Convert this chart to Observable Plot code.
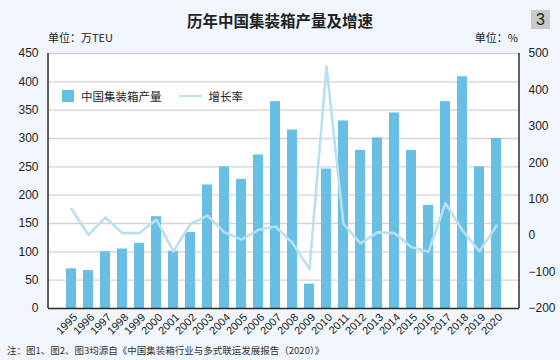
<!DOCTYPE html>
<html>
<head>
<meta charset="utf-8">
<script src="https://cdn.jsdelivr.net/npm/d3@7"></script>
<script src="https://cdn.jsdelivr.net/npm/@observablehq/plot@0.6"></script>
<style>
  body { margin: 0; }
  #wrap { position: relative; width: 560px; height: 360px; background: #f0f6fb; overflow: hidden;
          font-family: "Liberation Sans", "Noto Sans CJK SC", sans-serif; color: #222; }
  #title { position: absolute; top: 9px; left: 0; width: 560px; text-align: center;
           font: bold 15.5px "Noto Sans CJK SC", sans-serif; color: #222; }
  #badge { position: absolute; left: 531px; top: 10px; width: 19px; height: 19px; background: #c9c9c9;
           font: 16px "Liberation Sans", sans-serif; text-align: center; line-height: 19px; color: #222; }
  .unit { position: absolute; top: 29px; font: 11px "Noto Sans CJK SC", sans-serif; color: #222; }
  #chart { position: absolute; top: 40px; left: 0; }
  #legend { position: absolute; top: 88px; left: 62px; font: 11.5px "Noto Sans CJK SC", sans-serif; color: #222;
            display: flex; align-items: center; }
  #legend .sw { display: inline-block; width: 12px; height: 12px; margin-right: 7px; }
  #legend .ln { display: inline-block; width: 23px; height: 2.5px; margin-left: 17px; margin-right: 7px; }
  #footer { position: absolute; left: 7px; top: 343px; font: 9.5px "Noto Sans CJK SC", serif; color: #333; }
</style>
</head>
<body>
<div id="wrap">
  <div id="title">历年中国集装箱产量及增速</div>
  <div id="badge">3</div>
  <div class="unit" style="left:48px">单位：万TEU</div>
  <div class="unit" style="right:42px">单位：%</div>
  <div id="chart"></div>
  <div id="legend"></div>
  <div id="footer">注：图1、图2、图3均源自《中国集装箱行业与多式联运发展报告（2020）》</div>
</div>
<script>
const years = ["1995","1996","1997","1998","1999","2000","2001","2002","2003","2004","2005","2006","2007",
               "2008","2009","2010","2011","2012","2013","2014","2015","2016","2017","2018","2019","2020"];
const output = [70, 67, 100, 105, 115, 162, 101, 134, 218, 250, 228, 271, 365,
                315, 43, 246, 331, 279, 301, 345, 279, 182, 365, 409, 250, 300];
const growth = [73, 2, 50, 7, 7, 44, -43, 32, 55, 9, -11, 16, 25,
                -20, -92, 464, 32, -21, 9, 7, -32, -44, 89, 14, -43, 27];
const leftTicks = [0, 50, 100, 150, 200, 250, 300, 350, 400, 450];
const rightTicks = [-200, -100, 0, 100, 200, 300, 400, 500];
const seriesNames = ["中国集装箱产量", "增长率"];
const barColor = "#68bfe4";
const lineColor = "#b9dff1";

// right axis domain [-200, 500] mapped onto left domain [0, 450]
const toLeft = v => (v + 200) * 450 / 700;
const fromLeft = v => Math.round(v * 700 / 450 - 200);
const fmt = v => (v < 0 ? "\u2212" + Math.abs(v) : String(v));

const edges = (index, scales, values, dims) => {
  const g = d3.create("svg:g").attr("stroke", "#2b2b2b").attr("stroke-width", 1.5);
  const y1 = dims.marginTop, y2 = dims.height - dims.marginBottom;
  g.append("line").attr("x1", dims.marginLeft).attr("x2", dims.marginLeft).attr("y1", y1).attr("y2", y2);
  g.append("line").attr("x1", dims.width - dims.marginRight).attr("x2", dims.width - dims.marginRight).attr("y1", y1).attr("y2", y2);
  return g.node();
};

const chart = Plot.plot({
  width: 560,
  height: 305,
  marginLeft: 48,
  marginRight: 41,
  marginTop: 13,
  marginBottom: 37,
  style: { background: "transparent", fontFamily: "Liberation Sans, Noto Sans CJK SC, sans-serif", color: "#222" },
  x: { type: "band", domain: years, paddingInner: 0.43, paddingOuter: 0.34, label: null },
  y: { domain: [0, 450], label: null },
  marks: [
    Plot.frame({ fill: "white", stroke: null }),
    Plot.gridY(leftTicks.filter(d => d > 0), { stroke: "#d4d4d4", strokeOpacity: 1, strokeWidth: 1.3 }),
    Plot.barY(years, { x: years, y: output, fill: barColor }),
    Plot.lineY(years, { x: years, y: growth.map(toLeft), stroke: lineColor, strokeWidth: 2.6 }),
    Plot.ruleY([0], { stroke: "#2b2b2b", strokeWidth: 1.6 }),
    edges,
    Plot.axisY(leftTicks, { anchor: "left", tickSize: 0, tickPadding: 10, fontSize: 12, label: null }),
    Plot.axisY(rightTicks.map(toLeft), { anchor: "right", tickSize: 0, tickPadding: 9, fontSize: 12, label: null,
      tickFormat: d => fmt(fromLeft(d)) }),
    Plot.axisX({ tickRotate: -45, tickSize: 0, tickPadding: 7, dx: 4, fontSize: 11, label: null })
  ]
});
document.getElementById("chart").appendChild(chart);

const legend = document.getElementById("legend");
legend.innerHTML =
  `<span class="sw" style="background:${barColor}"></span><span>${seriesNames[0]}</span>` +
  `<span class="ln" style="background:${lineColor}"></span><span>${seriesNames[1]}</span>`;
</script>
</body>
</html>
